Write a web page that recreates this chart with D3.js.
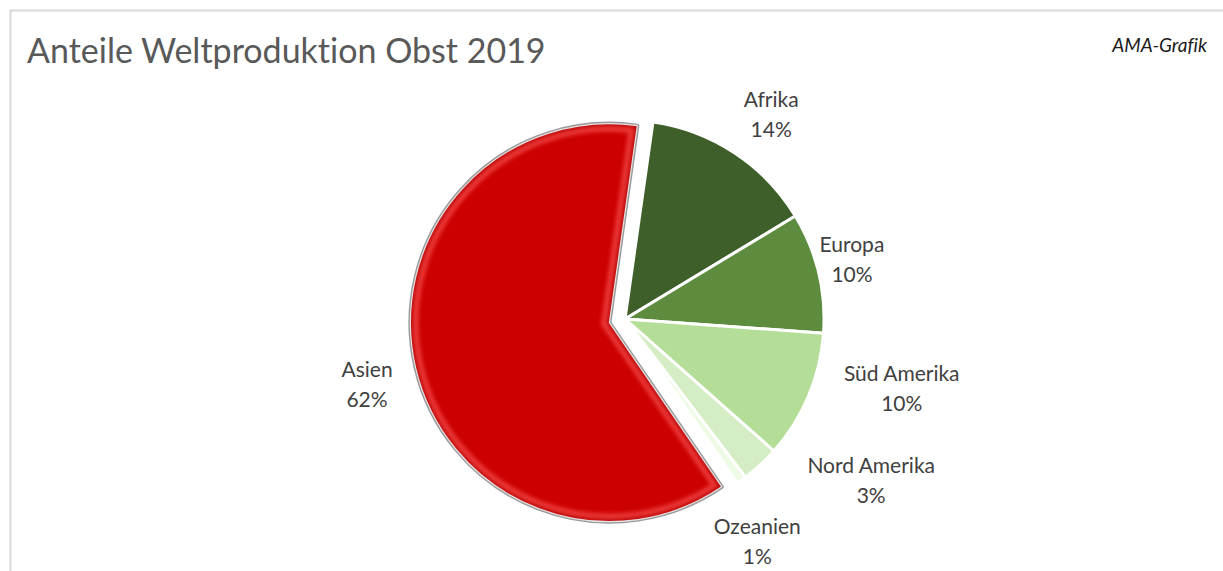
<!DOCTYPE html>
<html>
<head>
<meta charset="utf-8">
<style>
  html, body { margin: 0; padding: 0; background: #fff; }
  svg { display: block; }
  text { font-family: Lato, "Open Sans", sans-serif; font-variant-ligatures: none; }
</style>
</head>
<body>
<svg id="chart"></svg>
<script src="https://cdnjs.cloudflare.com/ajax/libs/d3/7.8.5/d3.min.js"></script>
<script>
// data (shares in %)
const regions = ["Asien", "Afrika", "Europa", "Süd Amerika", "Nord Amerika", "Ozeanien"];
const shares  = [61.8, 14.1, 9.8, 10.4, 3.1, 0.8];
const colors  = ["#cc0000", "#3e5f29", "#5e8c3e", "#b4de98", "#d4edc4", "#eefbe4"];

const width = 1223, height = 571;
const cx = 625, cy = 319, r = 199;
const explode = 16;          // Asien is pulled out
const startDeg = 145.6;      // Excel "first slice angle"

// label placement: [angle offset from slice middle (deg), distance from centre]
const labelTweak = [[-1, 250], [2, 252], [-1.5, 235], [-9, 285], [-14, 294], [5, 258]];

const svg = d3.select("#chart").attr("width", width).attr("height", height);

// frame lines
svg.append("line").attr("x1", 10).attr("y1", 10.5).attr("x2", width).attr("y2", 10.5)
  .attr("stroke", "#d9d9d9").attr("stroke-width", 2);
svg.append("line").attr("x1", 10.5).attr("y1", 10).attr("x2", 10.5).attr("y2", height)
  .attr("stroke", "#d9d9d9").attr("stroke-width", 2);

svg.append("text").attr("x", 27).attr("y", 63)
  .attr("font-size", 34).attr("fill", "#595959")
  .text("Anteile Weltproduktion Obst 2019");
svg.append("text").attr("x", 1207).attr("y", 52)
  .attr("text-anchor", "end").attr("font-size", 19).attr("font-style", "italic")
  .attr("fill", "#1a1a1a").text("AMA-Grafik");

const rad = Math.PI / 180;
const pie = d3.pie().sort(null).value(d => d)
  .startAngle(startDeg * rad).endAngle(startDeg * rad + 2 * Math.PI);
const arcs = pie(shares);
const arc = d3.arc().innerRadius(0).outerRadius(r);

const defs = svg.append("defs");
const blur = defs.append("filter").attr("id", "soft").attr("x", "-20%").attr("y", "-20%")
  .attr("width", "140%").attr("height", "140%");
blur.append("feGaussianBlur").attr("stdDeviation", 2.2);
defs.append("clipPath").attr("id", "asienClip")
  .append("path").attr("d", arc(arcs[0]));

function offsetOf(i) {
  if (i !== 0) return [0, 0];
  const mid = (arcs[0].startAngle + arcs[0].endAngle) / 2;
  return [explode * Math.sin(mid), -explode * Math.cos(mid)];
}

const g = svg.append("g").attr("transform", `translate(${cx},${cy})`);

// green slices
g.selectAll("path.slice")
  .data(arcs.slice(1))
  .join("path")
  .attr("class", "slice")
  .attr("d", arc)
  .attr("fill", (d, i) => colors[i + 1])
  .attr("stroke", "#fff")
  .attr("stroke-width", 3)
  .attr("stroke-linejoin", "round");

// exploded Asien slice with a bevel look
const [ax, ay] = offsetOf(0);
const ag = g.append("g").attr("transform", `translate(${ax},${ay})`);
ag.append("path").attr("d", arc(arcs[0]))
  .attr("fill", "none").attr("stroke", "#9a9a9a").attr("stroke-width", 4)
  .attr("stroke-linejoin", "round");
ag.append("path").attr("d", arc(arcs[0])).attr("fill", colors[0]);
const bevel = ag.append("g").attr("clip-path", "url(#asienClip)");
bevel.append("path").attr("d", arc(arcs[0]))
  .attr("fill", "none").attr("stroke", "#ee3b3b").attr("stroke-width", 16)
  .attr("filter", "url(#soft)");
bevel.append("path").attr("d", arc(arcs[0]))
  .attr("fill", "none").attr("stroke", "#b80000").attr("stroke-width", 5)
  .attr("filter", "url(#soft)");
ag.append("path").attr("d", arc(arcs[0]))
  .attr("fill", "none").attr("stroke", "#e4e4e4").attr("stroke-width", 1.2)
  .attr("stroke-linejoin", "round");

// labels
const labels = g.selectAll("g.lbl")
  .data(arcs)
  .join("g")
  .attr("class", "lbl")
  .attr("transform", (d, i) => {
    const [ox, oy] = offsetOf(i);
    const a = (d.startAngle + d.endAngle) / 2 + labelTweak[i][0] * rad;
    const dist = labelTweak[i][1];
    return `translate(${ox + dist * Math.sin(a)},${oy - dist * Math.cos(a)})`;
  });
labels.append("text")
  .attr("text-anchor", "middle").attr("dominant-baseline", "central")
  .attr("y", -15).attr("font-size", 21).attr("fill", "#404040")
  .text((d, i) => regions[i]);
labels.append("text")
  .attr("text-anchor", "middle").attr("dominant-baseline", "central")
  .attr("y", 15).attr("font-size", 21).attr("fill", "#404040")
  .text(d => Math.round(d.value) + "%");
</script>
</body>
</html>
